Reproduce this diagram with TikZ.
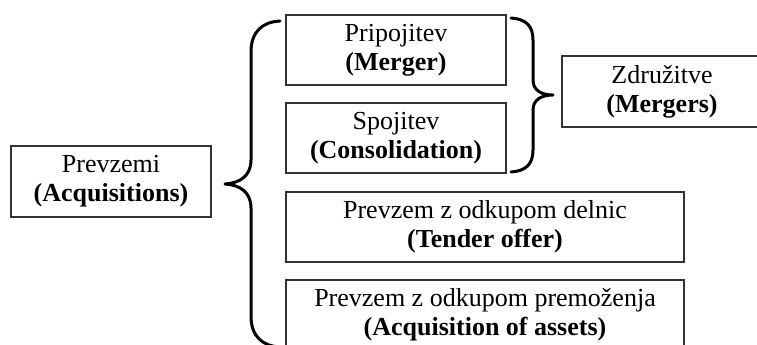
\documentclass[tikz,border=0pt]{standalone}
\usepackage{fontspec}
\setmainfont{Liberation Serif}
\begin{document}
\begin{tikzpicture}[x=1pt,y=-1pt,
  box/.style={draw=black!80, line width=1.3pt, align=center, inner sep=0pt,
              font=\fontsize{26}{29}\selectfont, text=black},
  brace/.style={line width=3pt, line cap=round, line join=round}]
\useasboundingbox (0,0) rectangle (757,345);
\clip (0,0) rectangle (757,345);

% boxes
\node[box, minimum width=200pt, minimum height=71pt] (acq) at (111,181.5)
  {Prevzemi\\\textbf{(Acquisitions)}};
\node[box, minimum width=220pt, minimum height=70pt] (merger) at (396,50)
  {Pripojitev\\\textbf{(Merger)}};
\node[box, minimum width=220pt, minimum height=70pt] (consol) at (396,138)
  {Spojitev\\\textbf{(Consolidation)}};
\node[box, minimum width=398pt, minimum height=70pt] (tender) at (485,227)
  {Prevzem z odkupom delnic\\\textbf{(Tender offer)}};
\node[box, minimum width=398pt, minimum height=70pt] (assets) at (485,315)
  {Prevzem z odkupom premoženja\\\textbf{(Acquisition of assets)}};
\node[box, minimum width=204pt, minimum height=71pt] (mergers) at (664,91.5)
  {\hspace*{-4pt}Združitve\\\hspace*{-4pt}\textbf{(Mergers)}};

% left brace grouping the four forms of acquisition
\draw[brace] (280,21) .. controls (262,22) and (251,32) .. (251,52)
  -- (251,160) .. controls (251,176) and (240,183) .. (225,184)
  .. controls (240,185) and (251,192) .. (251,208)
  -- (251,316) .. controls (251,336) and (262,346) .. (280,347);

% right brace joining merger and consolidation
\draw[brace] (511,18) .. controls (526,19) and (533,26) .. (533,40)
  -- (533,80) .. controls (533,90) and (541,95) .. (553,95)
  .. controls (541,95) and (533,100) .. (533,110)
  -- (533,150) .. controls (533,164) and (526,171) .. (511,172);
\end{tikzpicture}
\end{document}
